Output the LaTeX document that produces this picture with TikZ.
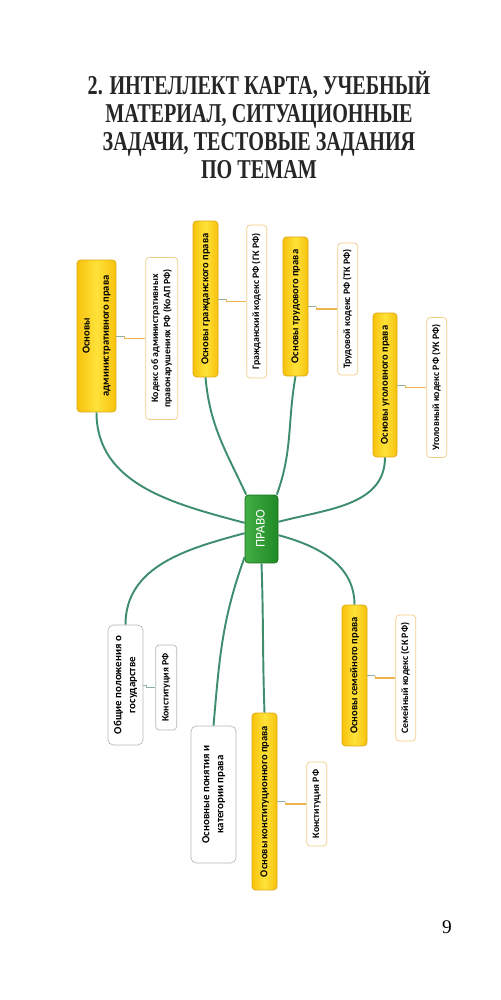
\documentclass[tikz,border=0pt]{standalone}
\usepackage{fontspec}
\usepackage{graphicx}
\setmainfont{Liberation Serif}
\newfontfamily\titlefont[FakeStretch=0.74]{Liberation Serif}
\newfontfamily\mapfont{Carlito}
\usetikzlibrary{positioning}
\definecolor{branchc}{HTML}{3E8E6E}
\definecolor{stubc}{HTML}{8FB0A8}
\definecolor{linkc}{HTML}{EDB44E}
\definecolor{yel}{HTML}{FFE23A}
\definecolor{yeldk}{HTML}{F6C20C}
\definecolor{yelbd}{HTML}{E2A60E}
\definecolor{grn}{HTML}{43AE43}
\definecolor{grndk}{HTML}{1F8A26}
\definecolor{kodbd}{HTML}{F2CD84}
\definecolor{plainbd}{HTML}{B8B8B8}
\newcommand{\vtext}[1]{\rotatebox{90}{\begin{tabular}{@{}c@{}}#1\end{tabular}}}

\begin{document}
\begin{tikzpicture}[x=0.02cm,y=-0.02cm,
    title/.style={font=\titlefont\bfseries\fontsize{15.5}{15.8}\selectfont,align=center,text=black!85,inner sep=0pt},
    root/.style={draw=grndk!80!black,left color=grn,right color=grndk,rounded corners=2pt,text=white,font=\mapfont\fontsize{7.5}{9}\selectfont,inner sep=1pt},
    topic/.style={draw=yelbd,left color=yeldk,right color=yeldk,middle color=yel,rounded corners=2pt,font=\mapfont\bfseries\fontsize{6}{8}\selectfont,inner sep=1pt},
    kodex/.style={draw=kodbd,fill=white,rounded corners=2pt,font=\mapfont\bfseries\fontsize{5.6}{7}\selectfont,inner sep=1pt,yshift=-0.05cm},
    plain/.style={draw=plainbd,fill=white,rounded corners=3pt,font=\mapfont\bfseries\fontsize{6.2}{8}\selectfont,inner sep=1pt},
    sz/.style 2 args={minimum width=#1cm,minimum height=#2cm},
    branch/.style={draw=branchc,line width=1.1pt},
    stub/.style={draw=stubc,line width=0.5pt},
    link/.style={draw=linkc,line width=0.7pt}]
    \fill[white] (0,0) rectangle (500,1000);
    \useasboundingbox (0,0) rectangle (500,1000);

    % heading and page number
    \node[title] (title) at (259,125) {2. ИНТЕЛЛЕКТ КАРТА, УЧЕБНЫЙ\\МАТЕРИАЛ, СИТУАЦИОННЫЕ\\ЗАДАЧИ, ТЕСТОВЫЕ ЗАДАНИЯ\\ПО ТЕМАМ};
    \node[font=\fontsize{11}{13}\selectfont] (page) at (447,927) {9};

    % centre
    \node[root,sz={0.66}{1.36}] (pravo) at (261.5,529) {\vtext{ПРАВО}};

    % upper topics
    \node[topic,sz={0.78}{3.04}] (adm) at (96.5,336) {\vtext{Основы\\[3pt]административного права}};
    \node[kodex,sz={0.64}{3.24},right=0.58cm of adm] (adm-k) {\vtext{Кодекс об административных\\правонарушениях РФ (КоАП РФ)}};
    \node[topic,sz={0.5}{3.12}] (civ) at (205.5,299) {\vtext{Основы гражданского права}};
    \node[kodex,sz={0.4}{3.06},right=0.56cm of civ] (civ-k) {\vtext{Гражданский кодекс РФ (ГК РФ)}};
    \node[topic,sz={0.5}{2.78}] (lab) at (295.5,306.5) {\vtext{Основы трудового права}};
    \node[kodex,sz={0.4}{2.64},right=0.58cm of lab] (lab-k) {\vtext{Трудовой кодекс РФ (ТК РФ)}};
    \node[topic,sz={0.48}{2.88}] (crim) at (385,385) {\vtext{Основы уголовного права}};
    \node[kodex,sz={0.4}{2.8},right=0.58cm of crim] (crim-k) {\vtext{Уголовный кодекс РФ (УК РФ)}};

    % lower topics
    \node[plain,sz={0.7}{2.4}] (gos) at (125.5,685) {\vtext{Общие положения о\\государстве}};
    \node[kodex,draw=plainbd,sz={0.42}{1.7},right=0.24cm of gos] (gos-k) {\vtext{Конституция РФ}};
    \node[plain,sz={0.9}{2.74}] (pon) at (213.5,794.5) {\vtext{Основные понятия и\\категории права}};
    \node[topic,sz={0.5}{3.54}] (con) at (264.5,801.5) {\vtext{Основы конституционного права}};
    \node[kodex,sz={0.4}{1.68},right=0.58cm of con] (con-k) {\vtext{Конституция РФ}};
    \node[topic,sz={0.5}{2.82}] (fam) at (354.5,675.5) {\vtext{Основы семейного права}};
    \node[kodex,sz={0.4}{2.52},right=0.56cm of fam] (fam-k) {\vtext{Семейный кодекс (СК РФ)}};

    % branches
    \draw[branch] (pravo.160) to[out=165,in=-90] (adm.south);
    \draw[branch] (pravo.114) to[out=115,in=-85] (civ.south);
    \draw[branch] (pravo.66) to[out=70,in=-100] (lab.south);
    \draw[branch] (pravo.23) to[out=15,in=-90] (crim.south);
    \draw[branch] (pravo.194) to[out=195,in=90] (gos.north);
    \draw[branch] (pravo.239) to[out=250,in=85] (pon.north);
    \draw[branch] (pravo.south) to[out=-88,in=92] (con.north);
    \draw[branch] (pravo.-20) to[out=-15,in=90] (fam.north);

    % codes
    \draw[stub] (adm.east) -- ++(0.16cm,0) coordinate (adm-j); \draw[link] (adm-j) |- (adm-k.west);
    \draw[stub] (civ.east) -- ++(0.16cm,0) coordinate (civ-j); \draw[link] (civ-j) |- (civ-k.west);
    \draw[stub] (lab.east) -- ++(0.16cm,0) coordinate (lab-j); \draw[link] (lab-j) |- (lab-k.west);
    \draw[stub] (crim.east) -- ++(0.16cm,0) coordinate (crim-j); \draw[link] (crim-j) |- (crim-k.west);
    \draw[stub] (gos.east) -- ++(0.06cm,0) coordinate (gos-j); \draw[stub] (gos-j) |- (gos-k.west);
    \draw[stub] (con.east) -- ++(0.16cm,0) coordinate (con-j); \draw[link] (con-j) |- (con-k.west);
    \draw[stub] (fam.east) -- ++(0.16cm,0) coordinate (fam-j); \draw[link] (fam-j) |- (fam-k.west);
\end{tikzpicture}
\end{document}
